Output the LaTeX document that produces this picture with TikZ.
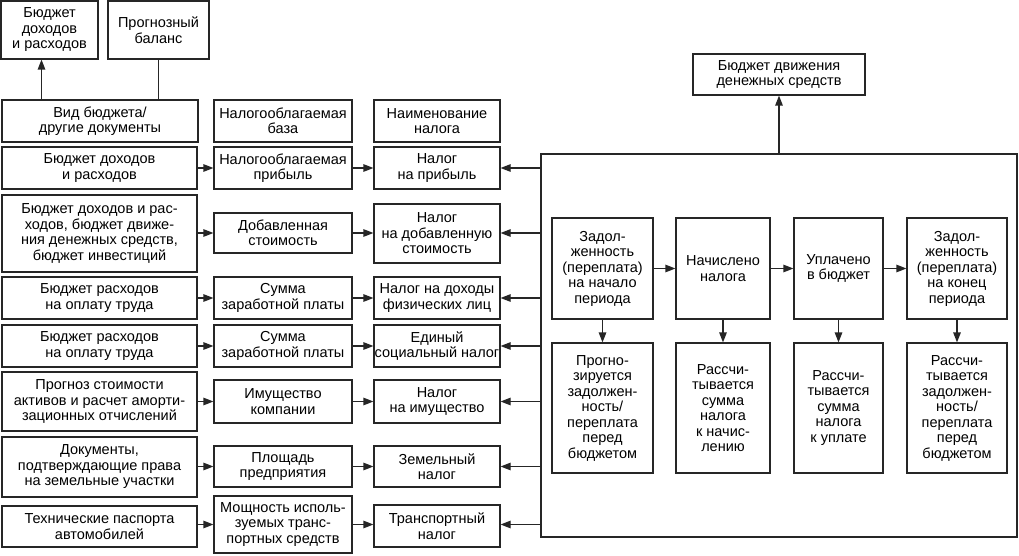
\documentclass[tikz,border=0pt]{standalone}
\usepackage{fontspec}
\setmainfont{Liberation Sans}
\usetikzlibrary{arrows.meta}
\tikzset{
  box/.style={draw=black!85, line width=1.2pt, rectangle, inner sep=0pt, align=center,
    font=\fontsize{14.5}{15.5}\selectfont},
  arr/.style={draw=black!85, line width=1.2pt, -{Triangle[length=10pt,width=7.5pt]}},
  ln/.style={draw=black!85, line width=1.2pt}
}
\newcommand\bx[6]{\node[box,minimum width={#4-#2},minimum height={#5-#3}] (#1) at ({(#2+#4)/2},{(#3+#5)/2}) {#6};}
\begin{document}
\begin{tikzpicture}[x=1pt,y=-1pt]
\useasboundingbox[fill=white] (0,0) rectangle (1019,556);
% top left
\bx{bdr}{1}{1}{98}{59}{Бюджет\\доходов\\и расходов}
\bx{prog}{108}{1}{209}{59}{Прогнозный\\баланс}
\bx{vid}{2}{100}{198}{142}{Вид бюджета/\\другие документы}
\bx{hb}{214}{100}{352}{142}{Налогооблагаемая\\база}
\bx{hn}{374}{100}{500}{142}{Наименование\\налога}
% rows
\bx{a1}{2}{147}{197}{189}{Бюджет доходов\\и расходов}
\bx{b1}{214}{147}{352}{189}{Налогооблагаемая\\прибыль}
\bx{c1}{374}{147}{500}{189}{Налог\\на прибыль}
\bx{a2}{2}{195}{197}{272}{Бюджет доходов и рас-\\ходов, бюджет движе-\\ния денежных средств,\\бюджет инвестиций}
\bx{b2}{214}{213}{352}{253}{Добавленная\\стоимость}
\bx{c2}{374}{204}{500}{263}{Налог\\на добавленную\\стоимость}
\bx{a3}{2}{277}{197}{319}{Бюджет расходов\\на оплату труда}
\bx{b3}{214}{277}{352}{319}{Сумма\\заработной платы}
\bx{c3}{374}{277}{500}{319}{Налог на доходы\\физических лиц}
\bx{a4}{2}{325}{197}{367}{Бюджет расходов\\на оплату труда}
\bx{b4}{214}{325}{352}{367}{Сумма\\заработной платы}
\bx{c4}{374}{325}{500}{367}{Единый\\социальный налог}
\bx{a5}{2}{372}{197}{431}{Прогноз стоимости\\активов и расчет аморти-\\зационных отчислений}
\bx{b5}{214}{380}{352}{423}{Имущество\\компании}
\bx{c5}{374}{380}{500}{423}{Налог\\на имущество}
\bx{a6}{2}{437}{197}{497}{Документы,\\подтверждающие права\\на земельные участки}
\bx{b6}{214}{446}{352}{487}{Площадь\\предприятия}
\bx{c6}{374}{446}{500}{487}{Земельный\\налог}
\bx{a7}{2}{506}{197}{547}{Технические паспорта\\автомобилей}
\bx{b7}{214}{496}{352}{553}{Мощность исполь-\\зуемых транс-\\портных средств}
\bx{c7}{374}{505}{500}{547}{Транспортный\\налог}
% right part
\bx{big}{541}{154}{1017}{537}{}
\bx{bdds}{693}{54}{865}{95}{Бюджет движения\\денежных средств}
\bx{A}{552}{218}{653}{319}{Задол-\\женность\\(переплата)\\на начало\\периода}
\bx{B}{676}{218}{770}{319}{Начислено\\налога}
\bx{C}{794}{218}{883}{319}{Уплачено\\в бюджет}
\bx{D}{907}{218}{1007}{319}{Задол-\\женность\\(переплата)\\на конец\\периода}
\bx{A2}{552}{343}{653}{473}{Прогно-\\зируется\\задолжен-\\ность/\\переплата\\перед\\бюджетом}
\bx{B2}{676}{343}{770}{473}{Рассчи-\\тывается\\сумма\\налога\\к начис-\\лению}
\bx{C2}{794}{343}{883}{473}{Рассчи-\\тывается\\сумма\\налога\\к уплате}
\bx{D2}{907}{343}{1007}{473}{Рассчи-\\тывается\\задолжен-\\ность/\\переплата\\перед\\бюджетом}
% connectors top-left
\draw[arr] ([xshift=-8pt]bdr.south |- vid.north) -- ([xshift=-8pt]bdr.south);
\draw[ln] (prog.south |- vid.north) -- (prog.south);
% row arrows
\foreach \r in {1,...,7}{
  \draw[arr] (a\r.east |- b\r.west) -- (b\r.west);
  \draw[arr] (b\r.east) -- (b\r.east -| c\r.west);
  \draw[arr] (big.west |- b\r.east) -- (b\r.east -| c\r.east);
}
% right
\draw[arr] (bdds.south |- big.north) -- (bdds.south);
\draw[arr] (A.east) -- (B.west |- A.east);
\draw[arr] (B.east) -- (C.west |- B.east);
\draw[arr] (C.east) -- (D.west |- C.east);
\draw[arr] (A.south) -- (A2.north);
\draw[arr] (B.south) -- (B2.north);
\draw[arr] (C.south) -- (C2.north);
\draw[arr] (D.south) -- (D2.north);
\end{tikzpicture}
\end{document}
